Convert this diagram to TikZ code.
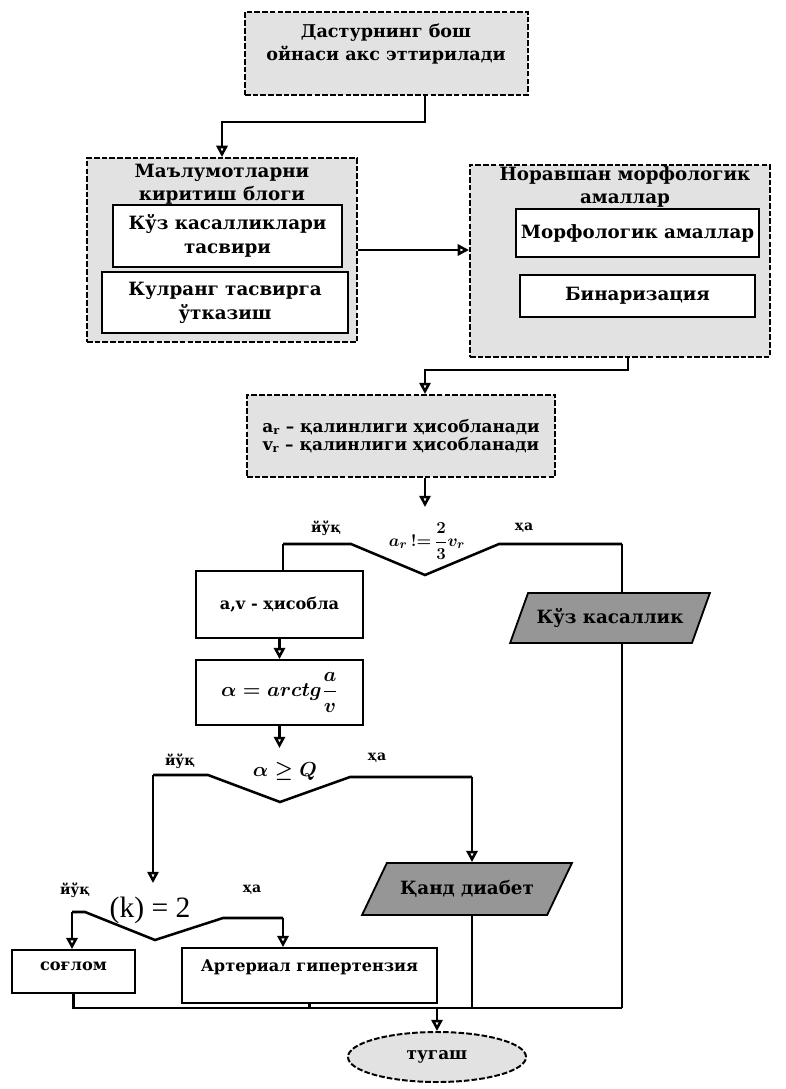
\documentclass[tikz,border=0pt]{standalone}
\usepackage{amsmath}
\usepackage{fontspec}
\setmainfont{DejaVu Serif}
\newfontfamily\formulafont{Liberation Serif}
\usepackage{tikz}
\usetikzlibrary{positioning,shapes.geometric,arrows.meta}
\definecolor{fongray}{RGB}{226,226,226}
\definecolor{tuqgray}{RGB}{150,150,150}

\begin{document}
\begin{tikzpicture}[x=0.025cm, y=-0.025cm,
  chiziq/.style={line width=1.8pt},
  strelka/.style={line width=1.8pt, -{Triangle[open,length=8pt,width=8pt]}},
  tashqi/.style={draw, dash pattern=on 4pt off 1.5pt, line width=1.4pt, fill=fongray},
  ichki/.style={draw, line width=1.6pt, fill=white, align=center, font=\fontsize{13}{17}\selectfont\bfseries},
  oddiy/.style={draw, line width=1.3pt, fill=white, align=center, font=\fontsize{11.5}{14}\selectfont\bfseries},
  sarlavha/.style={inner sep=0pt, align=center, font=\fontsize{13}{16}\selectfont\bfseries},
  natija/.style={draw, trapezium, trapezium stretches=true, line width=1.3pt, fill=tuqgray, font=\fontsize{13}{16}\selectfont\bfseries},
  javob/.style={inner sep=0pt, font=\fontsize{10}{12}\selectfont\bfseries},
  formula/.style={inner sep=0pt, font=\fontsize{13}{15}\selectfont\boldmath}]
\useasboundingbox (0,0) rectangle (785,1089);

\node[tashqi, minimum width=7.075cm, minimum height=2.075cm] (oyna) at (386.5,53.5) {};
\node[sarlavha, font=\fontsize{12.5}{17}\selectfont\bfseries] (oynamatn) at (386,44) {Дастурнинг бош\\ойнаси акс эттирилади};

\node[tashqi, minimum width=6.75cm, minimum height=4.6cm] (kiritish) at (222,250) {};
\node[sarlavha] (kiritishmatn) at (222,184) {Маълумотларни\\киритиш блоги};
\node[ichki, minimum width=5.725cm, minimum height=1.55cm] (kasal) at (227.5,236) {Кўз касалликлари\\тасвири};
\node[ichki, minimum width=6.15cm, minimum height=1.525cm] (kulrang) at (225,302.5) {Кулранг тасвирга\\ўтказиш};

\node[tashqi, minimum width=7.5cm, minimum height=4.8cm] (noravshan) at (620,261) {};
\node[sarlavha] (noravshanmatn) at (625,187) {Норавшан морфологик\\амаллар};
\node[ichki, minimum width=5.875cm, minimum height=1.2cm] (morf) at (637.5,233) {Морфологик амаллар};
\node[ichki, minimum width=5.875cm, minimum height=1.05cm] (binar) at (637.5,296) {Бинаризация};

\node[tashqi, minimum width=7.7cm, minimum height=2.05cm, align=center, font=\fontsize{12}{13}\selectfont\bfseries] (qalinlik) at (401,436) {a\textsubscript{r} – қалинлиги ҳисобланади\\v\textsubscript{r} – қалинлиги ҳисобланади};

\coordinate (t1l) at (283,544);
\coordinate (t1a) at (351,544);
\coordinate (t1v) at (425,575);
\coordinate (t1b) at (499,544);
\coordinate (t1r) at (622,544);
\coordinate (t1k) at (425,507);
\node[formula] (q1) at (427,541) {$a_r\,!{=}\,\dfrac{2}{3}v_r$};
\node[javob] (q1yoq) at (326,528) {йўқ};
\node[javob] (q1ha) at (524,528) {ҳа};

\node[oddiy, minimum width=4.175cm, minimum height=1.675cm] (hisob) at (279.5,604.5) {a,v - ҳисобла};
\node[oddiy, minimum width=4.175cm, minimum height=1.625cm, font=\fontsize{14}{16}\selectfont\boldmath] (burchak) at (279.5,692.5) {$\alpha = arctg\dfrac{a}{v}$};
\node[natija, trapezium left angle=59, trapezium right angle=121, minimum width=5cm, minimum height=1.25cm] (kozkas) at (610,618) {Кўз касаллик};

\coordinate (t2l) at (153,775);
\coordinate (t2a) at (208,775);
\coordinate (t2v) at (280,802);
\coordinate (t2b) at (350,777);
\coordinate (t2r) at (472,777);
\coordinate (t2k) at (279.5,748);
\node[formula, font=\fontsize{14}{16}\selectfont\boldmath] (q2) at (285,771) {$\alpha \geq Q$};
\node[javob] (q2yoq) at (180,761) {йўқ};
\node[javob] (q2ha) at (377,758) {ҳа};

\node[natija, trapezium left angle=50, trapezium right angle=130, minimum width=5.25cm, minimum height=1.3cm] (qand) at (467,889) {Қанд диабет};

\coordinate (t3l) at (72,912);
\coordinate (t3a) at (85,912);
\coordinate (t3v) at (155,940);
\coordinate (t3b) at (223,918);
\coordinate (t3r) at (283,918);
\coordinate (t3k) at (153,883);
\node[formula, font=\formulafont\fontsize{21}{24}\selectfont] (q3) at (150,910) {(k) = 2};
\node[javob] (q3yoq) at (75,890) {йўқ};
\node[javob] (q3ha) at (252,890) {ҳа};

\node[oddiy, minimum width=3.075cm, minimum height=1.075cm, text depth=8pt] (soglom) at (73.5,971.5) {соғлом};
\node[oddiy, minimum width=6.375cm, minimum height=1.375cm, text depth=14pt] (arterial) at (309.5,975.5) {Артериал гипертензия};

\coordinate (bus) at (437,1008);
\node[tashqi, ellipse, minimum width=4.45cm, minimum height=1.25cm, font=\fontsize{12}{14}\selectfont\bfseries] (tugash) at (437,1057) {тугаш};

\coordinate (b1) at (425,122);
\draw[strelka] (b1 |- oyna.south) -- (b1) -- (kiritish.north |- b1) -- (kiritish.north);
\draw[strelka] (kiritish.east) -- (kiritish.east -| noravshan.west);
\coordinate (b2) at (628,370);
\draw[strelka] (b2 |- noravshan.south) -- (b2) -- (t1k |- b2) -- (t1k |- qalinlik.north);
\draw[strelka] (t1k |- qalinlik.south) -- (t1k);
\draw[chiziq] (t1l) -- (t1a) -- (t1v) -- (t1b) -- (t1r);
\draw[chiziq] (t1l) -- (t1l |- hisob.north);
\draw[chiziq] (t1r) -- (t1r |- kozkas.north);
\draw[strelka] (hisob) -- (burchak);
\draw[strelka] (burchak.south) -- (t2k);
\draw[chiziq] (t2l) -- (t2a) -- (t2v) -- (t2b) -- (t2r);
\draw[strelka] (t2l) -- (t3k);
\draw[strelka] (t2r) -- (t2r |- qand.north);
\draw[chiziq] (t3l) -- (t3a) -- (t3v) -- (t3b) -- (t3r);
\draw[strelka] (t3l) -- (t3l |- soglom.north);
\draw[strelka] (t3r) -- (t3r |- arterial.north);
\draw[chiziq] (t1r |- kozkas.south) -- (t1r |- bus);
\draw[chiziq] (t2r |- qand.south) -- (t2r |- bus);
\draw[chiziq] (soglom.south) -- (soglom.south |- bus) -- (t1r |- bus);
\draw[chiziq] (arterial.south) -- (arterial.south |- bus);
\draw[strelka] (bus) -- (tugash.north);
\end{tikzpicture}
\end{document}
